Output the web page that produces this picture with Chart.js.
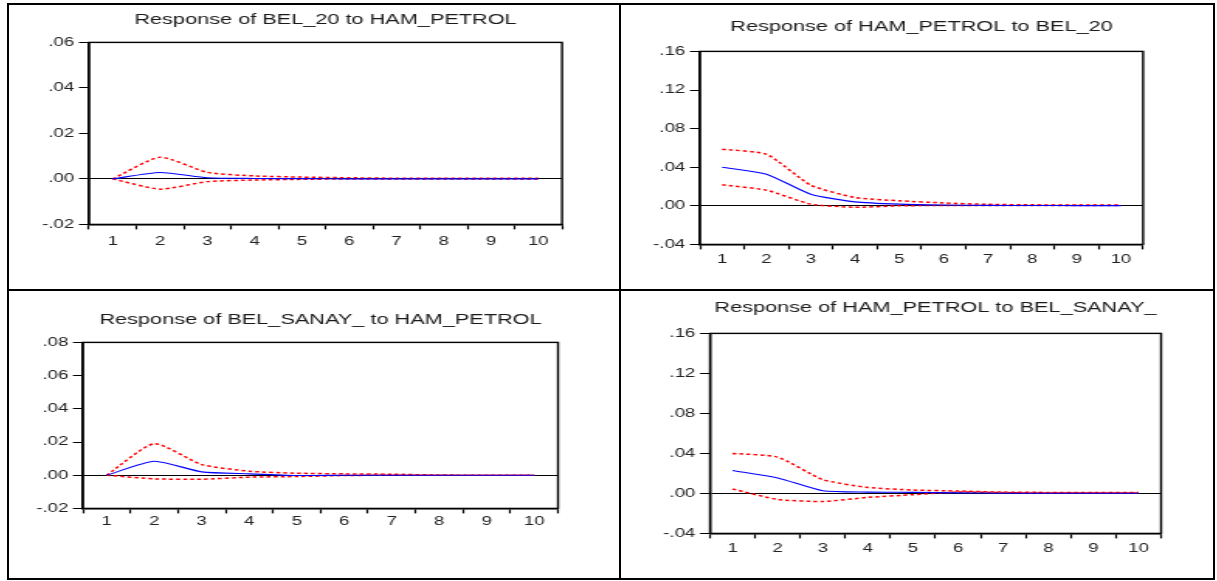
<!DOCTYPE html>
<html>
<head>
<meta charset="utf-8">
<script src="https://cdn.jsdelivr.net/npm/chart.js@4.4.0/dist/chart.umd.min.js"></script>
<style>
  html, body { margin: 0; padding: 0; background: #fff; }
  #page { position: relative; width: 1217px; height: 581px; overflow: hidden; }
  .rule { position: absolute; background: #000; }
  .panel { position: absolute; transform-origin: 0 0; }
</style>
</head>
<body>
<div id="page">
  <div class="rule" style="left:7px;top:3px;width:1208px;height:2px"></div>
  <div class="rule" style="left:7px;top:578px;width:1208px;height:2px"></div>
  <div class="rule" style="left:7px;top:3px;width:2px;height:577px"></div>
  <div class="rule" style="left:1213px;top:3px;width:2px;height:577px"></div>
  <div class="rule" style="left:619px;top:3px;width:2px;height:577px"></div>
  <div class="rule" style="left:7px;top:289px;width:1208px;height:2px"></div>
</div>
<script>
// ── DATA ─────────────────────────────────────────────────────────────
const periods = ['1', '2', '3', '4', '5', '6', '7', '8', '9', '10']

const titles = [
  'Response of BEL_20 to HAM_PETROL',
  'Response of HAM_PETROL to BEL_20',
  'Response of BEL_SANAY_ to HAM_PETROL',
  'Response of HAM_PETROL to BEL_SANAY_'
]

// response (blue) and +/- 2 s.e. bands (red)
const p1Resp  = [0, 0.0028, 0.0005, 0.0002, 0.0001, 0, 0, 0, 0, 0]
const p1Upper = [0, 0.0095, 0.0029, 0.0013, 0.0008, 0.0005, 0.0003, 0.0003, 0.0003, 0.0003]
const p1Lower = [0, -0.0045, -0.0012, -0.0005, -0.0002, 0, 0, 0, 0, 0]

const p2Resp  = [0.040, 0.0328, 0.012, 0.0041, 0.0017, 0.0008, 0.0004, 0.0003, 0.0002, 0.0002]
const p2Upper = [0.0586, 0.0534, 0.0214, 0.0086, 0.0052, 0.003, 0.0015, 0.001, 0.0008, 0.0008]
const p2Lower = [0.0217, 0.0162, 0.0017, -0.0015, 0, 0.0003, 0.0003, 0.0003, 0.0002, 0.0002]

const p3Resp  = [0, 0.0084, 0.002, 0.0008, -0.0002, 0, 0, 0, 0, 0]
const p3Upper = [0, 0.019, 0.0064, 0.0024, 0.0012, 0.0008, 0.0006, 0.0001, 0, 0]
const p3Lower = [0, -0.0022, -0.0024, -0.0012, -0.0008, -0.0002, 0, 0, 0, 0]

const p4Resp  = [0.0229, 0.0155, 0.0027, 0.0013, 0.001, 0.0005, 0.0002, 0.0002, 0.0002, 0.0002]
const p4Upper = [0.040, 0.0363, 0.0138, 0.006, 0.0034, 0.0024, 0.0013, 0.001, 0.001, 0.001]
const p4Lower = [0.0044, -0.006, -0.0081, -0.004, -0.0013, 0.0013, 0.0007, 0.0003, 0.0003, 0.0003]

const p1Ticks = { min: -0.02, max: 0.06, step: 0.02 }
const p2Ticks = { min: -0.04, max: 0.16, step: 0.04 }
const p3Ticks = { min: -0.02, max: 0.08, step: 0.02 }
const p4Ticks = { min: -0.04, max: 0.16, step: 0.04 }

// ── LAYOUT (page pixels) ─────────────────────────────────────────────
const STRETCH = 1.55   // the source picture is stretched sideways
const FONT = '"Liberation Sans", Arial, sans-serif'
const TITLE_SIZE = 14
const TICK_SIZE = 12
const X_TICK_LEN = 5

const panels = [
  { title: titles[0], resp: p1Resp, up: p1Upper, lo: p1Lower, y: p1Ticks,
    x0: 10, w: 600, plotL: 89, plotR: 562, titleY: 20, plotT: 42, plotB: 224, labelY: 241 },
  { title: titles[1], resp: p2Resp, up: p2Upper, lo: p2Lower, y: p2Ticks,
    x0: 624, w: 586, plotL: 700, plotR: 1143, titleY: 27, plotT: 51, plotB: 244, labelY: 259 },
  { title: titles[2], resp: p3Resp, up: p3Upper, lo: p3Lower, y: p3Ticks,
    x0: 10, w: 600, plotL: 83, plotR: 558, titleY: 320, plotT: 342, plotB: 508, labelY: 521 },
  { title: titles[3], resp: p4Resp, up: p4Upper, lo: p4Lower, y: p4Ticks,
    x0: 624, w: 586, plotL: 710, plotR: 1161, titleY: 308, plotT: 333, plotB: 533, labelY: 548 }
]

const fmtTick = v => (Math.abs(v) < 1e-9 ? '0.00' : v.toFixed(2)).replace('0.', '.')

const framePlugin = {
  id: 'frame',
  afterDatasetsDraw(chart) {
    const { ctx, chartArea: a } = chart
    ctx.save()
    ctx.strokeStyle = '#000'
    ctx.lineWidth = 1.4
    ctx.strokeRect(a.left, a.top, a.right - a.left, a.bottom - a.top)
    ctx.restore()
  }
}

function makePanel(p, i) {
  const titleLH = TITLE_SIZE * 1.2
  const tickLH = TICK_SIZE * 1.2
  const top = p.titleY - 2 - titleLH / 2
  const titleBottom = p.plotT - top - 2 - titleLH
  const tickPad = Math.max(0, p.labelY - p.plotB - X_TICK_LEN - tickLH / 2)
  const height = p.plotB - top + X_TICK_LEN + tickLH + 2 * tickPad + 4

  const box = document.createElement('div')
  box.className = 'panel'
  box.style.left = p.x0 + 'px'
  box.style.top = top + 'px'
  box.style.width = (p.w / STRETCH) + 'px'
  box.style.height = height + 'px'
  box.style.transform = 'scaleX(' + STRETCH + ')'
  const cv = document.createElement('canvas')
  cv.id = 'irf' + (i + 1)
  box.appendChild(cv)
  document.getElementById('page').appendChild(box)

  const yWidth = (p.plotL - p.x0) / STRETCH
  const rightPad = (p.x0 + p.w - p.plotR) / STRETCH

  new Chart(cv, {
    type: 'line',
    data: {
      labels: periods,
      datasets: [
        { data: p.resp, borderColor: '#0000ff', borderWidth: 1.1, pointRadius: 0, tension: 0.2 },
        { data: p.up, borderColor: '#ff0000', borderWidth: 1.5, borderDash: [2.5, 2], pointRadius: 0, tension: 0.2 },
        { data: p.lo, borderColor: '#ff0000', borderWidth: 1.5, borderDash: [2.5, 2], pointRadius: 0, tension: 0.2 }
      ]
    },
    options: {
      responsive: true,
      maintainAspectRatio: false,
      animation: false,
      layout: { padding: { left: 0, right: rightPad, top: 0, bottom: 4 } },
      plugins: {
        legend: { display: false },
        tooltip: { enabled: false },
        title: {
          display: true,
          text: p.title,
          fullSize: false,
          color: '#1a1a1a',
          font: { family: FONT, size: TITLE_SIZE, weight: 'normal' },
          padding: { top: 2, bottom: titleBottom }
        }
      },
      scales: {
        x: {
          offset: true,
          grid: { display: true, offset: true, drawOnChartArea: false, tickLength: X_TICK_LEN, tickColor: '#000', tickWidth: 1.2 },
          border: { display: true, color: '#000', width: 1.4 },
          ticks: { autoSkip: false, maxRotation: 0, padding: tickPad, color: '#222', font: { family: FONT, size: TICK_SIZE } }
        },
        y: {
          min: p.y.min,
          max: p.y.max,
          afterFit: s => { s.width = yWidth },
          grid: {
            drawOnChartArea: true,
            tickLength: 6.5,
            tickColor: '#000',
            tickWidth: 1,
            lineWidth: 1,
            color: c => (c.tick && Math.abs(c.tick.value) < 1e-9 ? '#000' : 'rgba(0,0,0,0)')
          },
          border: { display: true, color: '#000', width: 1.4 },
          ticks: { stepSize: p.y.step, padding: 3, color: '#222', font: { family: FONT, size: TICK_SIZE }, callback: fmtTick }
        }
      }
    },
    plugins: [framePlugin]
  })
}

panels.forEach(makePanel)
</script>
</body>
</html>
